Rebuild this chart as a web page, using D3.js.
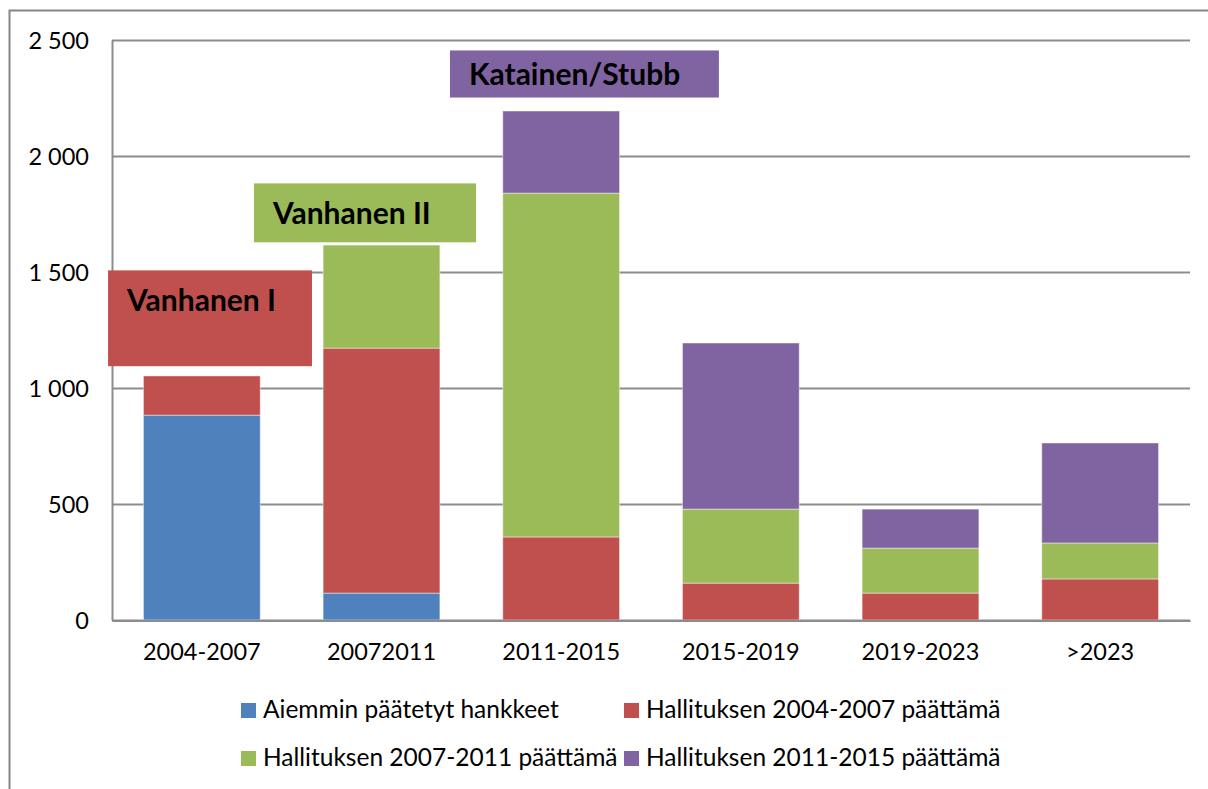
<!DOCTYPE html>
<html>
<head>
<meta charset="utf-8">
<script src="https://cdn.jsdelivr.net/npm/d3@7"></script>
<style>
  body { margin: 0; background: #fff; }
  svg text { font-family: Lato, "Open Sans", sans-serif; fill: #000; }
</style>
</head>
<body>
<svg width="1208" height="789"></svg>
<script>
// data
var categories = ["2004-2007", "20072011", "2011-2015", "2015-2019", "2019-2023", ">2023"];
var seriesNames = ["Aiemmin päätetyt hankkeet", "Hallituksen 2004-2007 päättämä",
                   "Hallituksen 2007-2011 päättämä", "Hallituksen 2011-2015 päättämä"];
var aiemmin   = [883, 116, 0, 0, 0, 0];
var hall0407  = [169, 1056, 358, 159, 116, 177];
var hall0711  = [0, 444, 1482, 319, 194, 155];
var hall1115  = [0, 0, 354, 716, 168, 431];
var colors = ["#4F81BD", "#C0504D", "#9BBB59", "#8064A2"];
var yTicks = [0, 500, 1000, 1500, 2000, 2500];

// government labels: category position (index units) and value range
var annoLabels = ["Vanhanen I", "Vanhanen II", "Katainen/Stubb"];
var annoX0 = [-0.022, 0.79, 1.881];
var annoX1 = [1.113, 2.026, 3.378];
var annoTop = [1507, 1882, 2455];
var annoBottom = [1094, 1628, 2252];
var annoTextY = [1330, 1705, 2305];
var annoColors = ["#C0504D", "#9BBB59", "#8064A2"];

var svg = d3.select("svg"),
    margin = {top: 40, right: 18, bottom: 169, left: 112},
    width = +svg.attr("width") - margin.left - margin.right,
    height = +svg.attr("height") - margin.top - margin.bottom;

// outer chart frame (only top and left edges are visible)
svg.append("path")
    .attr("d", "M9.5,800V10.5H1210")
    .attr("fill", "none")
    .attr("stroke", "#868686")
    .attr("stroke-width", 2);

var x = d3.scaleBand().domain(categories).range([0, width])
    .paddingInner(0.35).paddingOuter(0.175);
var y = d3.scaleLinear().domain([0, 2500]).range([height, 0]);
var xi = d3.scaleLinear().domain([0, categories.length]).range([0, width]);

var g = svg.append("g")
    .attr("transform", "translate(" + margin.left + "," + margin.top + ")");

// gridlines
g.append("g")
    .selectAll("line")
    .data(yTicks)
    .enter().append("line")
        .attr("x1", 0)
        .attr("x2", width)
        .attr("y1", function(d) { return Math.round(y(d)) + 0.5; })
        .attr("y2", function(d) { return Math.round(y(d)) + 0.5; })
        .attr("stroke", "#8c8c8c")
        .attr("stroke-width", 2);

// y axis
var yAxis = g.append("g")
    .call(d3.axisLeft(y).tickValues(yTicks).tickSize(0).tickPadding(23)
        .tickFormat(function(d) { return d3.format(",")(d).replace(",", " "); }));
yAxis.select(".domain").attr("stroke", "#8c8c8c").attr("stroke-width", 2);
yAxis.selectAll("text").style("font-size", "23.5px").attr("dy", "0.35em");

// stacked bars
var table = categories.map(function(c, i) {
    return {cat: c, s0: aiemmin[i], s1: hall0407[i], s2: hall0711[i], s3: hall1115[i]};
});
var stack = d3.stack().keys(["s0", "s1", "s2", "s3"])(table);

g.selectAll(".series")
    .data(stack)
    .enter().append("g")
        .attr("class", "series")
        .attr("fill", function(d, i) { return colors[i]; })
    .selectAll("rect")
    .data(function(d) { return d.filter(function(p) { return p[1] - p[0] > 0; }); })
    .enter().append("rect")
        .attr("x", function(d) { return x(d.data.cat); })
        .attr("y", function(d) { return y(d[1]); })
        .attr("width", x.bandwidth())
        .attr("height", function(d) { return y(d[0]) - y(d[1]); })
        .attr("stroke", "rgba(255,255,255,0.45)")
        .attr("stroke-width", 1);

// x axis line and labels
var xAxis = g.append("g")
    .attr("transform", "translate(0," + (Math.round(height) + 0.5) + ")")
    .call(d3.axisBottom(x).tickSize(0).tickPadding(23));
xAxis.select(".domain").attr("stroke", "#8c8c8c").attr("stroke-width", 2);
xAxis.selectAll("text").style("font-size", "23.5px");

// government label boxes
var anno = g.selectAll(".anno")
    .data(annoLabels)
    .enter().append("g")
        .attr("class", "anno");
anno.append("rect")
    .attr("x", function(d, i) { return xi(annoX0[i]); })
    .attr("y", function(d, i) { return y(annoTop[i]); })
    .attr("width", function(d, i) { return xi(annoX1[i]) - xi(annoX0[i]); })
    .attr("height", function(d, i) { return y(annoBottom[i]) - y(annoTop[i]); })
    .attr("fill", function(d, i) { return annoColors[i]; });
anno.append("text")
    .attr("x", function(d, i) { return xi(annoX0[i]) + 19; })
    .attr("y", function(d, i) { return y(annoTextY[i]); })
    .style("font-size", "30px")
    .style("font-weight", "bold")
    .text(function(d) { return d; });

// legend, two rows of two
var legend = svg.append("g")
    .selectAll("g")
    .data(seriesNames)
    .enter().append("g")
        .attr("transform", function(d, i) {
            return "translate(" + (241 + (i % 2) * 383) + "," + (703 + Math.floor(i / 2) * 48) + ")";
        });
legend.append("rect")
    .attr("width", 15)
    .attr("height", 15)
    .attr("fill", function(d, i) { return colors[i]; });
legend.append("text")
    .attr("x", 22)
    .attr("y", 15)
    .style("font-size", "24.5px")
    .text(function(d) { return d; });
</script>
</body>
</html>
